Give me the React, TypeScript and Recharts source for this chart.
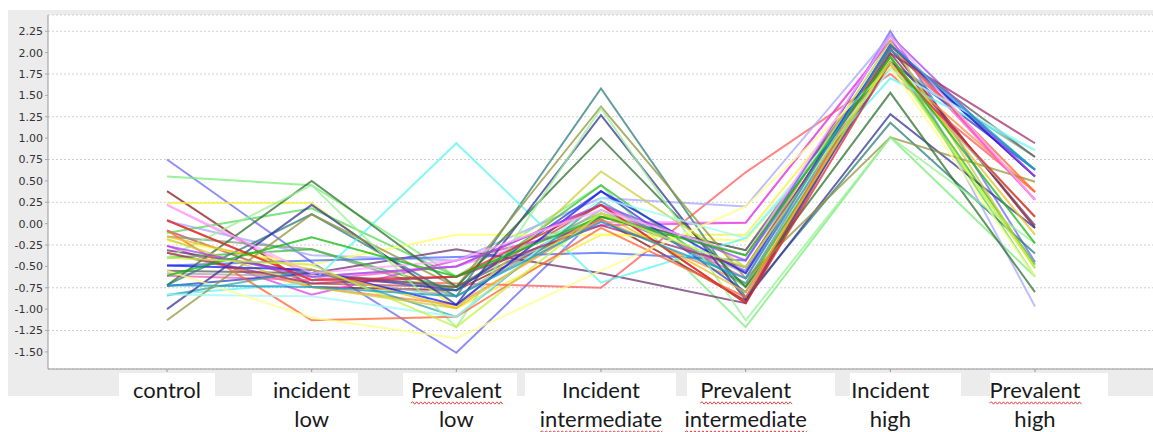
import React from 'react';
import { LineChart, Line, XAxis, YAxis, CartesianGrid } from 'recharts';

// groups along the x axis (two-line labels split at the first space)
const groups = [
  'control',
  'incident low',
  'Prevalent low',
  'Incident intermediate',
  'Prevalent intermediate',
  'Incident high',
  'Prevalent high',
];
// words that carry the red spell-check squiggle in the source
const flaggedWords = ['Prevalent', 'intermediate'];

const yTicks = [-1.5, -1.25, -1, -0.75, -0.5, -0.25, 0, 0.25, 0.5, 0.75, 1, 1.25, 1.5, 1.75, 2, 2.25];

// one profile per gene, values per group
const p01 = [0.75, -0.45, -1.51, 0.12, -0.55, 2.25, -0.45];
const p02 = [0.55, 0.45, -0.62, 0.45, -1.21, 1.01, -0.62];
const p03 = [0.38, -0.74, -0.78, 0.05, -0.9, 2.05, -0.05];
const p04 = [0.24, 0.24, -0.99, -0.13, -0.13, 1.95, -0.52];
const p05 = [0.22, -0.62, -0.5, 0.02, 0.01, 2.14, 0.28];
const p06 = [0.04, -0.66, -0.7, -0.75, 0.6, 1.75, 0.37];
const p07 = [0.03, -0.37, -0.43, 0.3, 0.2, 2.2, -0.97];
const p08 = [-0.08, -0.7, -0.74, 0.22, -0.93, 2.09, 0.55];
const p09 = [-0.11, 0.18, -0.62, 0.12, -0.37, 1.95, -0.62];
const p10 = [-0.15, -0.3, -0.85, 0.08, -0.31, 1.89, 0.78];
const p11 = [-0.2, -0.48, -0.13, -0.13, -0.2, 1.83, 0.08];
const p12 = [-0.26, -0.83, -0.43, -0.02, 0.01, 2.14, 0.28];
const p13 = [-0.31, -0.58, -0.3, -0.58, -0.93, 1.99, -0.02];
const p14 = [-0.34, -0.74, -0.95, 0.05, -0.7, 1.85, 0.37];
const p15 = [-0.4, -0.3, -0.78, 0.45, -0.74, 1.95, -0.48];
const p16 = [-0.49, -0.43, -0.39, -0.34, -0.43, 2.03, 0.63];
const p17 = [-0.55, -0.58, -0.74, 0.08, -0.31, 2.03, 0.78];
const p18 = [-0.58, -0.62, -0.85, 0.16, -0.58, 1.83, 0.08];
const p19 = [-0.61, -0.66, -0.5, 0.22, -0.64, 2.09, 0.28];
const p20 = [-0.72, 0.11, -0.85, 1.58, -0.86, 1.18, -0.35];
const p21 = [-0.73, -0.58, -0.78, 0.38, -0.8, 1.89, 0.63];
const p22 = [-0.83, -0.69, 0.94, -0.69, -0.17, 1.7, 0.86];
const p23 = [-0.84, -0.54, -1.09, 0.26, -0.7, 2.03, 0.63];
const p24 = [-1.0, 0.22, -0.95, 1.27, -0.89, 1.28, -0.05];
const p25 = [-1.13, 0.11, -0.74, 1.37, -0.64, 1.01, 0.49];
const p26 = [-0.72, 0.5, -0.74, 1.0, -0.74, 1.53, -0.8];
const p27 = [-0.4, 0.45, -1.21, 1.35, -1.13, 1.01, -0.23];
const p28 = [-0.08, -1.13, -1.09, -0.05, -0.86, 2.09, 0.37];
const p29 = [-0.18, -0.74, -0.99, 0.61, -0.51, 2.14, -0.52];
const p30 = [-0.49, -0.54, -0.95, 0.38, -0.58, 2.09, 0.55];
const p31 = [-0.83, -0.85, -1.09, 0.3, -0.17, 1.8, 0.86];
const p32 = [-0.26, -0.62, -0.5, 0.22, -0.43, 2.2, 0.55];
const p33 = [-0.34, -0.7, -0.62, -0.02, -0.51, 1.99, 0.94];
const p34 = [-0.55, -1.1, -1.34, -0.55, 0.2, 1.83, -0.62];
const p35 = [-0.15, -0.54, -0.99, 0.12, -0.8, 1.95, -0.13];
const p36 = [0.04, -0.66, -0.62, 0.22, -0.93, 1.89, 0.08];
const p37 = [0.22, -0.58, -0.43, 0.16, -0.37, 2.2, 0.28];
const p38 = [-0.61, -0.16, -0.62, 0.08, -0.37, 1.95, -0.23];
const p39 = [-0.4, -0.48, -1.21, 0.12, -0.51, 1.89, -0.52];
const p40 = [-0.72, -0.74, -0.85, 0.02, -0.64, 2.09, 0.63];

const profiles = [
  p01, p02, p03, p04, p05, p06, p07, p08, p09, p10,
  p11, p12, p13, p14, p15, p16, p17, p18, p19, p20,
  p21, p22, p23, p24, p25, p26, p27, p28, p29, p30,
  p31, p32, p33, p34, p35, p36, p37, p38, p39, p40,
];

const lineColors = [
  '#6868f0', '#78ec78', '#8b1a1a', '#f5f040', '#ff88ff', '#ff5a5a', '#a8a8ff', '#c84848', '#5ad85a', '#7fa07f',
  '#ffff60', '#e040e0', '#703070', '#ff8c3c', '#3cbc3c', '#4a68ff', '#5c5c5c', '#a8a8a8', '#ff5cb8', '#2e7e7e',
  '#2a44c8', '#5cf4f4', '#3ca4a4', '#343494', '#94943c', '#2f702f', '#98f098', '#ff6432', '#cccc3c', '#1818f0',
  '#a0f8f8', '#a048f0', '#a0306c', '#ffff88', '#e8c020', '#e02828', '#ffa8ff', '#10b810', '#c4f044', '#10a0c8',
];

// white word-processor text boxes sitting on the grey strip under the plot
const labelBoxes = [
  [119, 215], [252, 358], [403, 517], [525, 676], [687, 835], [850, 961], [990, 1108],
];

const rows = groups.map((g, i) => {
  const row: Record<string, string | number> = { group: g };
  profiles.forEach((p, k) => {
    row['p' + k] = p[i];
  });
  return row;
});

const LABEL_SIZE = 22;

// little zigzag like a spell checker's underline
const squiggle = (cx: number, baseY: number, width: number) => {
  const x0 = cx - width / 2;
  let d = `M${x0},${baseY}`;
  for (let s = 0, up = true; s < width; s += 2, up = !up) {
    d += ` L${x0 + s + 2},${baseY + (up ? -1.2 : 1.2)}`;
  }
  return d;
};

const GroupTick = ({ x, y, payload }: any) => {
  const words = String(payload.value).split(' ');
  return (
    <g>
      {words.map((w, i) => {
        const base = y + 24 + i * 29;
        const wordWidth = w.length * LABEL_SIZE * 0.46;
        return (
          <g key={i}>
            <text
              x={x}
              y={base}
              textAnchor="middle"
              fill="#1a1a1a"
              fontSize={LABEL_SIZE}
              fontFamily="Lato, 'Noto Sans', sans-serif"
            >
              {w}
            </text>
            {flaggedWords.includes(w) && (
              <path d={squiggle(x, base + 5, wordWidth)} fill="none" stroke="#e04848" strokeWidth={1} />
            )}
          </g>
        );
      })}
    </g>
  );
};

const App = () => {
  return (
    <div style={{ position: 'absolute', left: 0, top: 0, width: 1153, height: 432, overflow: 'hidden', background: '#fff' }}>
      <div style={{ position: 'absolute', left: 8, top: 10, width: 1145, height: 386, background: '#ececec' }} />
      {labelBoxes.map(([l, r], i) => (
        <div key={i} style={{ position: 'absolute', left: l, top: 373, width: r - l, height: 59, background: '#fff' }} />
      ))}
      <div style={{ position: 'absolute', left: 0, top: 0 }}>
        <LineChart width={1153} height={432} data={rows} margin={{ top: 15, right: 0, bottom: 0, left: 0 }}>
          <CartesianGrid vertical={false} fill="#fff" stroke="#d0d0d0" strokeDasharray="2 2" />
          <XAxis
            dataKey="group"
            height={63}
            padding={{ left: 119, right: 118 }}
            interval={0}
            tick={<GroupTick />}
            tickSize={3}
            tickMargin={2}
            axisLine={{ stroke: '#999' }}
            tickLine={{ stroke: '#999' }}
          />
          <YAxis
            width={48}
            domain={[-1.7, 2.44]}
            ticks={yTicks}
            tickFormatter={(v: number) => v.toFixed(2)}
            tick={{ fill: '#333', fontSize: 11, fontFamily: 'DejaVu Sans, sans-serif' }}
            tickSize={3}
            tickMargin={2}
            axisLine={{ stroke: '#999' }}
            tickLine={{ stroke: '#aaa' }}
            allowDataOverflow
          />
          {profiles.map((_, k) => (
            <Line
              key={k}
              dataKey={'p' + k}
              stroke={lineColors[k]}
              strokeWidth={2}
              strokeOpacity={0.75}
              dot={false}
              activeDot={false}
              isAnimationActive={false}
            />
          ))}
        </LineChart>
      </div>
    </div>
  );
};

export default App;
